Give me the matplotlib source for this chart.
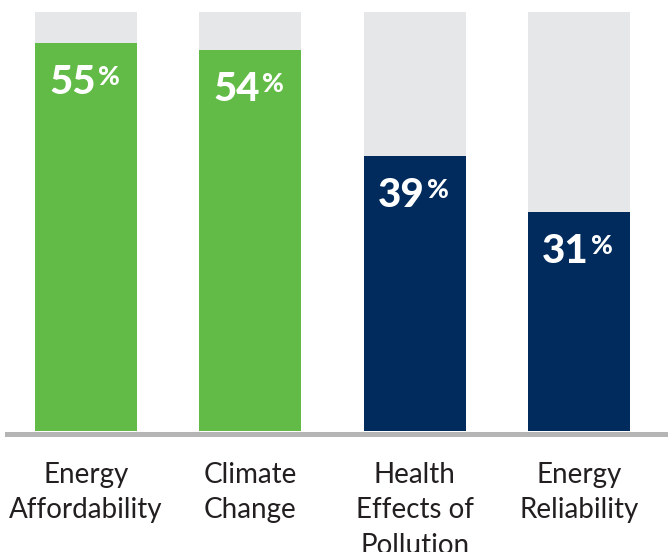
import matplotlib
matplotlib.use("Agg")
import matplotlib.pyplot as plt

categories = ["Energy\nAffordability", "Climate\nChange", "Health\nEffects of\nPollution", "Energy\nReliability"]
values = [55, 54, 39, 31]
totals = [59.4, 59.4, 59.4, 59.4]
colors = ["#62bb46", "#62bb46", "#002b5c", "#002b5c"]
labels = ["55", "54", "39", "31"]

W, H = 668, 552
DPI = 100
fig = plt.figure(figsize=(W / DPI, H / DPI), dpi=DPI)
plt.rcParams['font.family'] = ['Lato', 'DejaVu Sans']

# axes in pixel units
left_px, right_px = 7, 668
bottom_px, top_px = 431, 8
ax = fig.add_axes([left_px / W, (H - bottom_px) / H, (right_px - left_px) / W, (bottom_px - top_px) / H])

spacing = 164.3
ax.set_xlim(-(86 - left_px) / spacing, 3 + (right_px - 579) / spacing)
ax.set_ylim(0, (bottom_px - top_px) / 7.05)

x = list(range(len(categories)))
ax.bar(x, totals, width=0.62, color="#e6e7e8", zorder=1)
ax.bar(x, values, width=0.62, color=colors, zorder=2)

pt = 72 / DPI
for xi, v, lab in zip(x, values, labels):
    ax.annotate(lab, (xi, v), xytext=(10 * pt, -39 * pt), textcoords="offset points",
                ha="right", va="center", color="white", fontsize=29, fontweight="black", zorder=3)
    ax.annotate("%", (xi, v), xytext=(12 * pt, -34 * pt), textcoords="offset points",
                ha="left", va="center", color="white", fontsize=19, fontweight="black", zorder=3)

for s in ["top", "left", "right"]:
    ax.spines[s].set_visible(False)
ax.spines["bottom"].set_position(("outward", 2.2))
ax.spines["bottom"].set_linewidth(3.6)
ax.spines["bottom"].set_color("#b5b5b5")
ax.set_yticks([])
ax.set_xticks(x)
ax.set_xticklabels(categories, fontsize=20, color="#231f20", linespacing=1.45)
ax.tick_params(axis="x", length=0, pad=20)

fig.savefig("out.png", dpi=DPI)
